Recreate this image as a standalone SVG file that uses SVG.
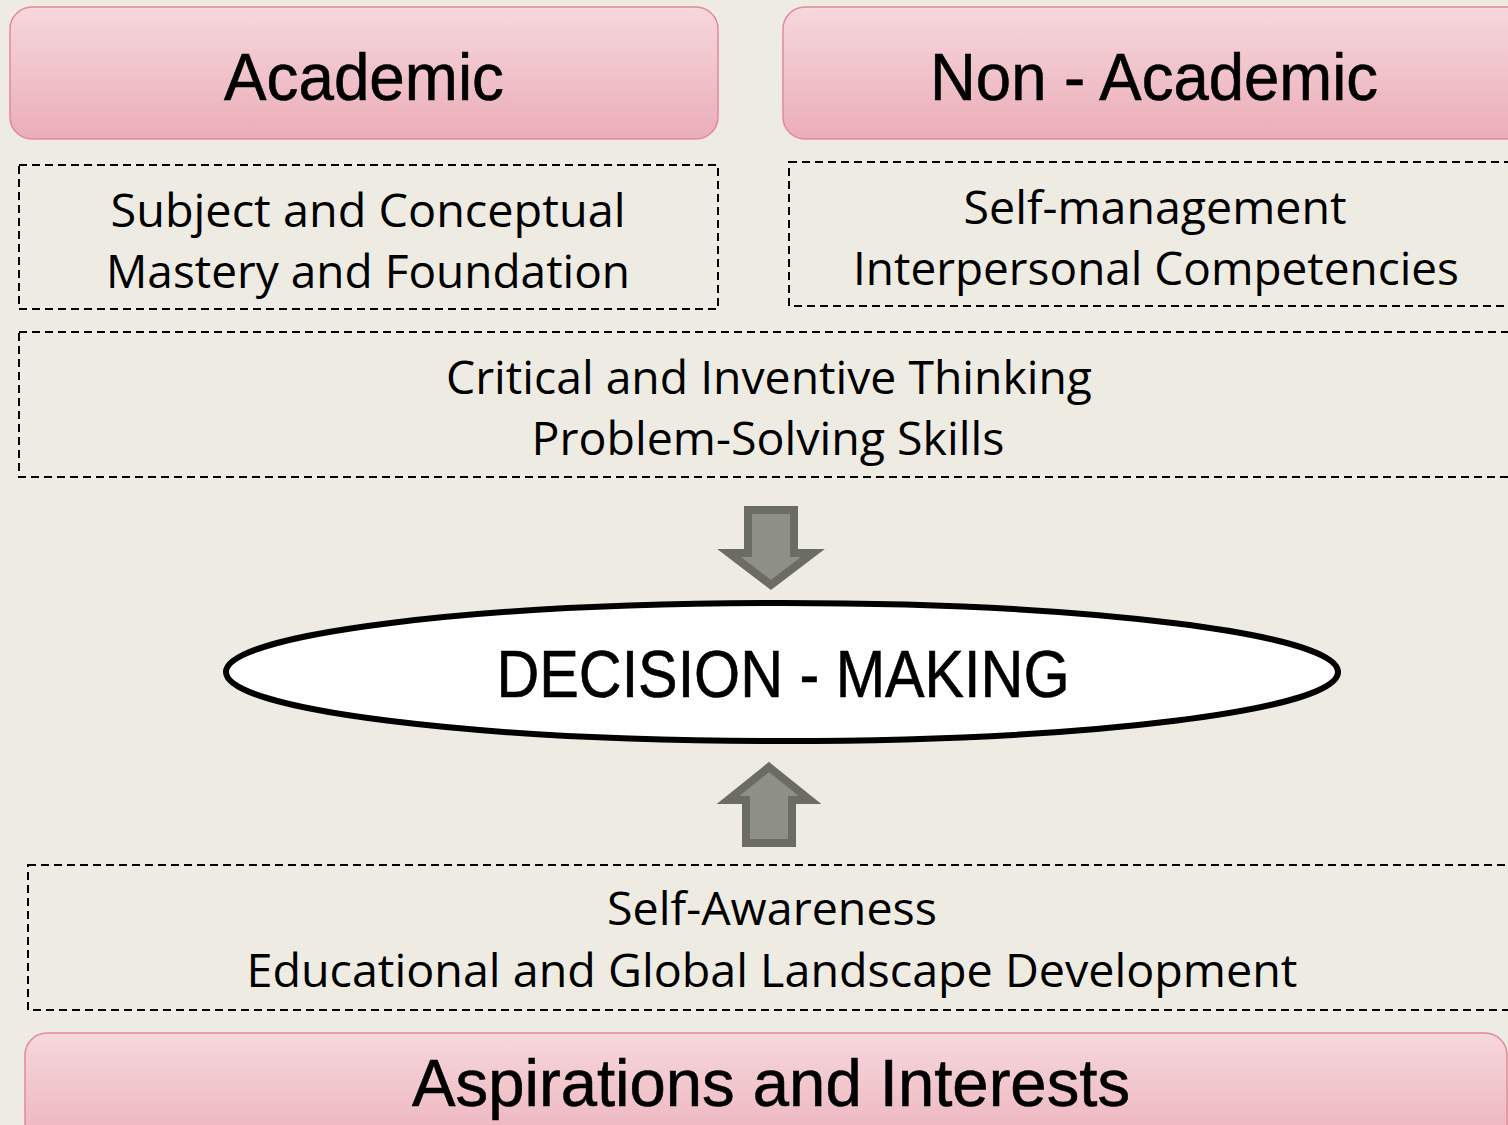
<svg xmlns="http://www.w3.org/2000/svg" width="1508" height="1125" viewBox="0 0 1508 1125">
<defs>
<linearGradient id="pink" x1="0" y1="0" x2="0" y2="1">
<stop offset="0" stop-color="#f6d8dd"/>
<stop offset="1" stop-color="#ebadb7"/>
</linearGradient>
<style>
.pink{fill:url(#pink);stroke:#e3899a;stroke-width:1.5}
.dash{fill:none;stroke:#000;stroke-width:2;stroke-dasharray:8 5}
.title{font-family:"Liberation Sans",Arial,sans-serif;font-size:66px;fill:#000;text-anchor:middle;stroke:#000;stroke-width:0.6}
.body{font-family:"Open Sans","Noto Sans",sans-serif;font-size:45px;fill:#000;text-anchor:middle}
.arrow{fill:#8e8f86;stroke:#6b6c64;stroke-width:8;stroke-linejoin:miter}
</style>
</defs>
<rect width="1508" height="1125" fill="#eeebe3"/>
<g id="academic">
<rect class="pink" x="10" y="7" width="708" height="132" rx="22"/>
<text class="title" x="364" y="100" textLength="280" lengthAdjust="spacingAndGlyphs">Academic</text>
</g>
<g id="non-academic">
<rect class="pink" x="783" y="7" width="760" height="132" rx="22"/>
<text class="title" x="1154" y="100" textLength="448" lengthAdjust="spacingAndGlyphs">Non - Academic</text>
</g>
<g id="subject">
<rect class="dash" x="19" y="165" width="699" height="144"/>
<text class="body" x="368" y="227" textLength="515" lengthAdjust="spacingAndGlyphs">Subject and Conceptual</text>
<text class="body" x="368" y="288" textLength="524" lengthAdjust="spacingAndGlyphs">Mastery and Foundation</text>
</g>
<g id="self-management">
<rect class="dash" x="789" y="162" width="760" height="144"/>
<text class="body" x="1155" y="224" textLength="383" lengthAdjust="spacingAndGlyphs">Self-management</text>
<text class="body" x="1156" y="285" textLength="606" lengthAdjust="spacingAndGlyphs">Interpersonal Competencies</text>
</g>
<g id="critical">
<rect class="dash" x="19" y="332" width="1530" height="145"/>
<text class="body" x="769" y="394" textLength="646" lengthAdjust="spacingAndGlyphs">Critical and Inventive Thinking</text>
<text class="body" x="768" y="455" textLength="473" lengthAdjust="spacingAndGlyphs">Problem-Solving Skills</text>
</g>
<g id="decision">
<ellipse cx="782" cy="672" rx="556" ry="69" fill="#fff" stroke="#000" stroke-width="6"/>
<text class="title" x="783" y="697" font-size="67" stroke-width="1.2" textLength="573" lengthAdjust="spacingAndGlyphs">DECISION - MAKING</text>
</g>
<g id="self-awareness">
<rect class="dash" x="28" y="865" width="1520" height="145"/>
<text class="body" x="772" y="925" textLength="330" lengthAdjust="spacingAndGlyphs">Self-Awareness</text>
<text class="body" x="772" y="987" textLength="1051" lengthAdjust="spacingAndGlyphs">Educational and Global Landscape Development</text>
</g>
<g id="aspirations">
<rect class="pink" x="25" y="1033" width="1482" height="130" rx="22"/>
<text class="title" x="771" y="1106" textLength="718" lengthAdjust="spacingAndGlyphs">Aspirations and Interests</text>
</g>
<g id="connectors">
<polygon class="arrow" points="748,510 794,510 794,553 813,553 771,585 729,553 748,553"/>
<polygon class="arrow" points="769,767 810,800 792,800 792,843 746,843 746,800 728,800"/>
</g>
</svg>
